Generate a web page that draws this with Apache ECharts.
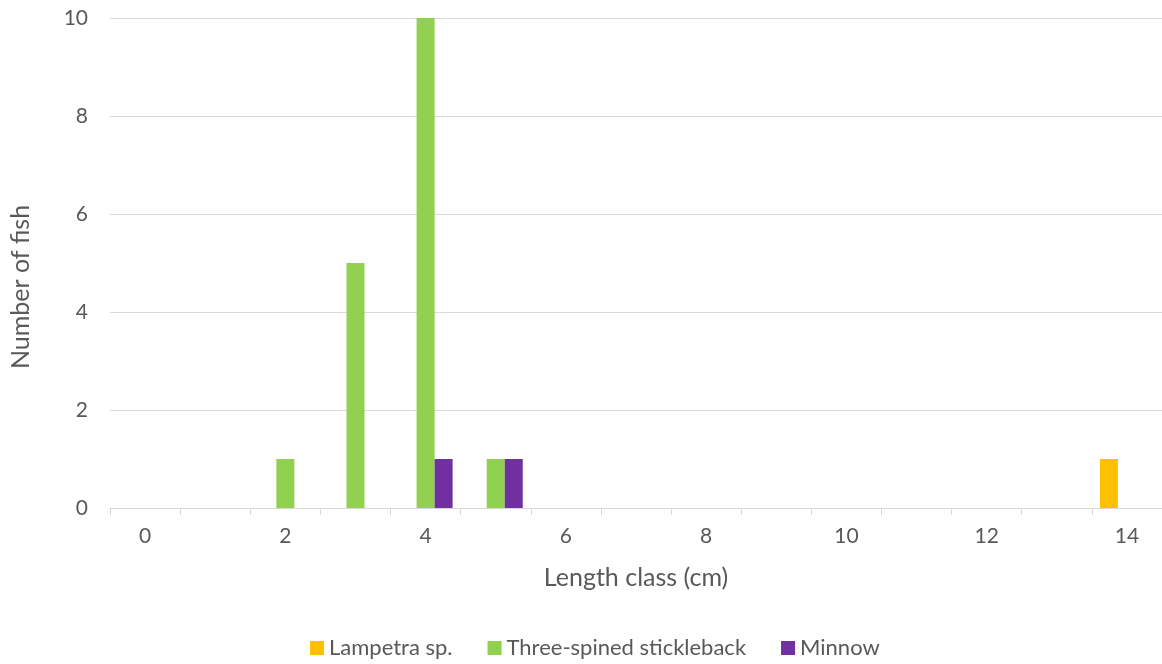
<!DOCTYPE html>
<html>
<head>
<meta charset="utf-8">
<script src="https://cdn.jsdelivr.net/npm/echarts@6/dist/echarts.min.js"></script>
<style>
  html, body { margin: 0; padding: 0; background: #fff; }
  #chart { width: 1162px; height: 664px; }
</style>
</head>
<body>
<div id="chart"></div>
<script>
// Length classes (cm) on the category axis
const lengthClasses = ['0','1','2','3','4','5','6','7','8','9','10','11','12','13','14'];
// Number of fish per length class, per species
const lampetra    = [0,0,0,0,0,0,0,0,0,0,0,0,0,0,1];
const stickleback = [0,0,1,5,10,1,0,0,0,0,0,0,0,0,0];
const minnow      = [0,0,0,0,1,1,0,0,0,0,0,0,0,0,0];
const seriesNames = ['Lampetra sp.', 'Three-spined stickleback', 'Minnow'];
const yTicks = { min: 0, max: 10, interval: 2 };

const textColor = '#595959';
const font = 'Lato, "Open Sans", sans-serif';

const chart = echarts.init(document.getElementById('chart'));
chart.setOption({
  backgroundColor: '#ffffff',
  animation: false,
  textStyle: { fontFamily: font, color: textColor },
  grid: { left: 110, right: -2, top: 18, bottom: 156 },
  legend: {
    data: seriesNames,
    bottom: 0,
    left: 305,
    icon: 'rect',
    itemWidth: 14,
    itemHeight: 14,
    itemGap: 35,
    textStyle: { fontFamily: font, fontSize: 22, color: textColor }
  },
  xAxis: {
    type: 'category',
    data: lengthClasses,
    name: 'Length class (cm)',
    nameLocation: 'middle',
    nameGap: 57,
    nameTextStyle: { fontFamily: font, fontSize: 25, color: textColor },
    axisLine: { lineStyle: { color: '#d9d9d9', width: 1 } },
    axisTick: { show: true, interval: 0, length: 7, lineStyle: { color: '#d9d9d9' } },
    axisLabel: { interval: 1, margin: 18, fontFamily: font, fontSize: 21, color: textColor }
  },
  yAxis: {
    type: 'value',
    min: yTicks.min,
    max: yTicks.max,
    interval: yTicks.interval,
    axisLine: { show: false },
    axisTick: { show: false },
    splitLine: { lineStyle: { color: '#d9d9d9', width: 1 } },
    axisLabel: { margin: 22, fontFamily: font, fontSize: 21, color: textColor }
  },
  graphic: [{
    type: 'text',
    x: 21,
    y: 287,
    rotation: Math.PI / 2,
    style: {
      text: 'Number of fish',
      font: '25px ' + font,
      fill: textColor,
      textAlign: 'center',
      textVerticalAlign: 'middle'
    }
  }],
  series: [
    { name: seriesNames[0], type: 'bar', data: lampetra, barWidth: 18, barGap: '0%', itemStyle: { color: '#FFC000' } },
    { name: seriesNames[1], type: 'bar', data: stickleback, barWidth: 18, barGap: '0%', itemStyle: { color: '#92D050' } },
    { name: seriesNames[2], type: 'bar', data: minnow, barWidth: 18, barGap: '0%', itemStyle: { color: '#7030A0' } }
  ]
});
</script>
</body>
</html>
